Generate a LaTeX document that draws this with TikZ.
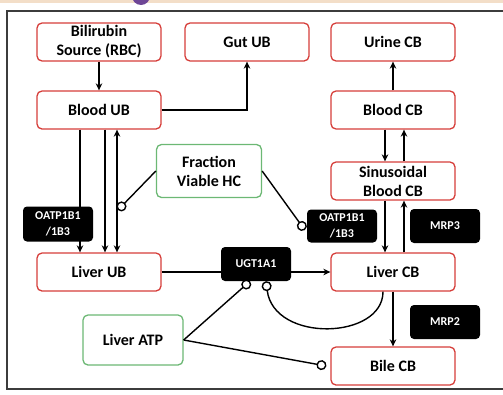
\documentclass[tikz,border=0pt]{standalone}
\usepackage{fontspec}
\setmainfont{Carlito}
\usetikzlibrary{arrows.meta}
\definecolor{boxred}{RGB}{214,62,58}
\definecolor{boxgreen}{RGB}{108,184,116}
\definecolor{framegray}{RGB}{60,60,60}
\definecolor{peach}{RGB}{243,222,200}
\definecolor{badgepurple}{RGB}{110,70,150}

\begin{document}
\begin{tikzpicture}[x=1pt,y=-1pt,
  >={Stealth[length=7pt,width=6.5pt]},
  redbox/.style={draw=boxred,line width=1.3pt,rounded corners=5pt,fill=white,
    minimum width=124pt,minimum height=38pt,inner sep=1pt,align=center,
    font=\fontsize{16}{19}\selectfont\bfseries},
  greenbox/.style={redbox,draw=boxgreen},
  blackbox/.style={fill=black,rounded corners=4pt,text=white,minimum width=70pt,
    minimum height=34pt,inner sep=1pt,align=center,
    font=\fontsize{12}{16}\selectfont\bfseries},
  arr/.style={line width=1.4pt,->},
  twoway/.style={line width=1.4pt,<->},
  inh/.style={line width=1.4pt,-{Circle[open,length=10pt]}}]
\useasboundingbox (0,0) rectangle (503,394);
\begin{scope}
\clip (0,0) rectangle (503,4);
\fill [peach] (0,0) rectangle (503,3);
\fill [badgepurple] (141,-4) circle (9);
\end{scope}
\draw [framegray,line width=1.3pt] (503,11) -- (7,11) -- (7,389) -- (503,389);

\node[redbox] (src) at (99,42) {Bilirubin\\Source (RBC)};
\node[redbox] (gutub) at (247,42) {Gut UB};
\node[redbox] (urinecb) at (393,42) {Urine CB};
\node[redbox] (bloodub) at (99,110) {Blood UB};
\node[redbox] (bloodcb) at (393,110) {Blood CB};
\node[greenbox,minimum width=105pt,minimum height=53pt] (fvhc) at (209,171) {Fraction\\Viable HC};
\node[redbox] (sinuscb) at (393,181) {Sinusoidal\\Blood CB};
\node[redbox] (liverub) at (99,272) {Liver UB};
\node[redbox] (livercb) at (393,272) {Liver CB};
\node[greenbox,minimum width=100pt,minimum height=50pt] (liveratp) at (133,340) {Liver ATP};
\node[redbox] (bilecb) at (393,366) {Bile CB};
\node[blackbox,minimum height=33pt] (oatpr) at (342,226) {OATP1B1\\/1B3};
\node[blackbox] (mrpthree) at (445,226) {MRP3};
\node[blackbox] (mrptwo) at (445,322) {MRP2};

\draw[arr] (src) -- (bloodub);
\draw[arr] (bloodub) -| (gutub);
\draw[arr] (bloodcb) -- (urinecb);
\draw[arr] ([xshift=-19pt]bloodub.south) -- ([xshift=-19pt]liverub.north);
\draw[arr] ([xshift=6pt]bloodub.south) -- ([xshift=6pt]liverub.north);
\draw[twoway] ([xshift=18pt]bloodub.south) -- ([xshift=18pt]liverub.north);
\draw[arr] ([xshift=-8pt]bloodcb.south) -- ([xshift=-8pt]sinuscb.north);
\draw[arr] ([xshift=11pt]sinuscb.north) -- ([xshift=11pt]bloodcb.south);
\draw[arr] ([xshift=-8pt]sinuscb.south) -- ([xshift=-8pt]livercb.north);
\draw[arr] ([xshift=11pt]livercb.north) -- ([xshift=11pt]sinuscb.south);
\draw[arr] (liverub) -- (livercb);
\draw[arr] (livercb) -- (bilecb);

\node[blackbox,minimum height=35pt] (oatpl) at (58,224) {OATP1B1\\/1B3};
\node[blackbox] (ugt) at (256,264) {UGT1A1};

\coordinate (hcin) at (118,210);
\draw[inh] (fvhc.west) -- (hcin);
\draw[inh] (fvhc.east) -- ([xshift=-2pt,yshift=-4pt]oatpr.west);
\draw[inh] (liveratp.east) -- ([xshift=-6pt]ugt.south);
\draw[inh] (liveratp.east) -- ([xshift=-4pt]bilecb.west);
\draw[inh] ([xshift=-10pt]livercb.south) .. controls +(0,48) and +(8,62) .. ([xshift=10pt]ugt.south);
\end{tikzpicture}
\end{document}
